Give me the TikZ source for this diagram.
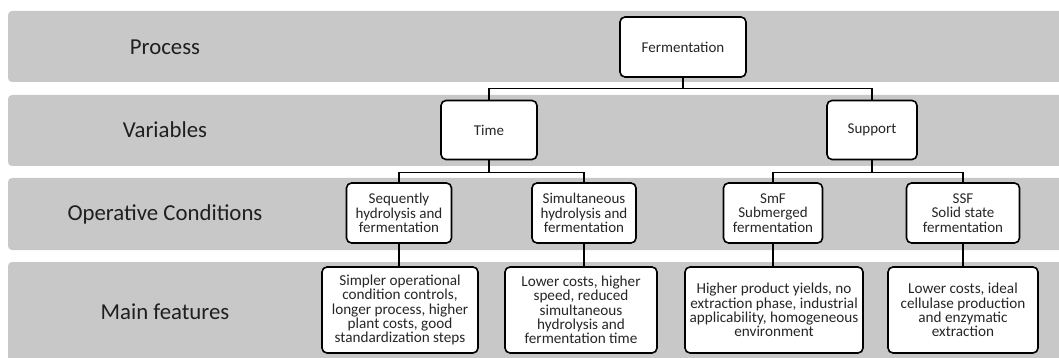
\documentclass[tikz,border=0pt]{standalone}
\usepackage{fontspec}
\setmainfont{Carlito}
\usepackage{tikz}
\usetikzlibrary{positioning,calc}
\definecolor{bandgray}{HTML}{C8C8C8}

\tikzset{
  band/.style={fill=bandgray,draw=none,rounded corners=4},
  rowlabel/.style={font=\fontsize{22.8}{26}\selectfont,text=black!88},
  box/.style={draw,fill=white,line width=1.6,rounded corners=5,align=center,
    inner sep=2,text=black!85,font=\fontsize{15}{14.6}\selectfont},
  feat/.style={box,font=\fontsize{15.2}{14.3}\selectfont},
  link/.style={line width=1.4}
}

\begin{document}
\begin{tikzpicture}[x=1pt,y=-1pt]
\useasboundingbox (0,0) rectangle (1059,358);
% grey rows
\fill[band] (8,11) rectangle (1070,82);
\fill[band] (8,95) rectangle (1070,166);
\fill[band] (8,178) rectangle (1070,250);
\fill[band] (8,262) rectangle (1070,370);

\node[rowlabel] (lproc) at (165,47) {Process};
\node[rowlabel] (lvar) at (165,130) {Variables};
\node[rowlabel] (lop) at (165,214) {Operative Conditions};
\node[rowlabel] (lmain) at (165,312) {Main features};

% process / variables
\node[box,minimum width=126,minimum height=60] (ferm) at (683,47) {Fermentation};
\node[box,minimum width=96,minimum height=59] (time) at (489,130) {Time};
\node[box,minimum width=90,minimum height=59] (supp) at (872,130) {Support};

% operative conditions
\node[box,minimum width=105,minimum height=60] (seq) at (399,213)
  {Sequently\\hydrolysis and\\fermentation};
\node[box,minimum width=104,minimum height=60] (sim) at (584,213)
  {Simultaneous\\hydrolysis and\\fermentation};
\node[box,minimum width=99,minimum height=60] (smf) at (773,213)
  {SmF\\Submerged\\fermentation};
\node[box,minimum width=113,minimum height=60] (ssf) at (963,213)
  {SSF\\Solid state\\fermentation};

% main features
\node[feat,minimum width=156,minimum height=86] (fseq) at (400,310)
  {Simpler operational\\condition controls,\\longer process, higher\\plant costs, good\\standardization steps};
\node[feat,minimum width=152,minimum height=86] (fsim) at (581,310)
  {Lower costs, higher\\speed, reduced\\simultaneous\\hydrolysis and\\fermentation time};
\node[feat,minimum width=178,minimum height=86] (fsmf) at (774,310)
  {Higher product yields, no\\extraction phase, industrial\\applicability, homogeneous\\environment};
\node[feat,minimum width=150,minimum height=86] (fssf) at (963,310)
  {Lower costs, ideal\\cellulase production\\and enzymatic\\extraction};

% connectors
\draw[link] (ferm.south) -- ++(0,11) -| (time.north);
\draw[link] (ferm.south) -- ++(0,11) -| (supp.north);
\draw[link] (time.south) -- ++(0,12) -| (seq.north);
\draw[link] (time.south) -- ++(0,12) -| (sim.north);
\draw[link] (supp.south) -- ++(0,12) -| (smf.north);
\draw[link] (supp.south) -- ++(0,12) -| (ssf.north);
\draw[link] (seq.south) -- (fseq.north -| seq.south);
\draw[link] (sim.south) -- (fsim.north -| sim.south);
\draw[link] (smf.south) -- (fsmf.north -| smf.south);
\draw[link] (ssf.south) -- (fssf.north -| ssf.south);

\end{tikzpicture}
\end{document}
